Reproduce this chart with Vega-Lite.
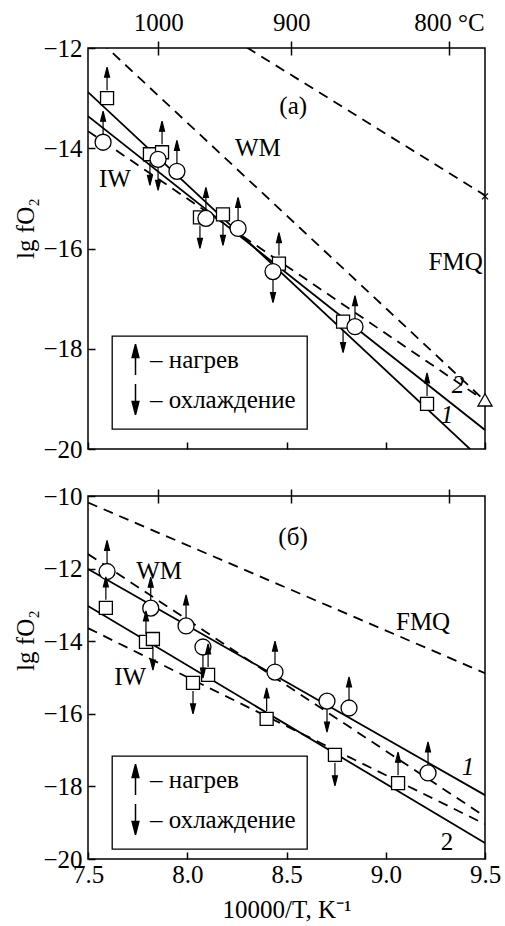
{
  "$schema": "https://vega.github.io/schema/vega-lite/v6.json",
  "padding": {"left": 13, "top": 9, "right": 0, "bottom": 0},
  "spacing": 20,
  "background": "white",
  "datasets": {
    "topBuffers": [
      {"buffer": "IW", "x": 7.5, "y": -13.66}, {"buffer": "IW", "x": 9.5, "y": -19.04},
      {"buffer": "WM", "x": 7.5, "y": -11.64}, {"buffer": "WM", "x": 9.5, "y": -19.04},
      {"buffer": "FMQ", "x": 7.5, "y": -10.02}, {"buffer": "FMQ", "x": 9.5, "y": -14.94}
    ],
    "topFits": [
      {"fit": "1", "x": 7.5, "y": -12.88}, {"fit": "1", "x": 9.5, "y": -20.28},
      {"fit": "2", "x": 7.5, "y": -13.36}, {"fit": "2", "x": 9.5, "y": -19.62}
    ],
    "topPoints": [
      {"x": 7.596, "y": -13.00, "type": "square", "dir": "нагрев"},
      {"x": 7.576, "y": -13.88, "type": "circle", "dir": "нагрев"},
      {"x": 7.812, "y": -14.12, "type": "square", "dir": "охлаждение"},
      {"x": 7.873, "y": -14.08, "type": "square", "dir": "нагрев"},
      {"x": 7.853, "y": -14.22, "type": "circle", "dir": "охлаждение"},
      {"x": 7.948, "y": -14.46, "type": "circle", "dir": "нагрев"},
      {"x": 8.064, "y": -15.38, "type": "square", "dir": "охлаждение"},
      {"x": 8.094, "y": -15.40, "type": "circle", "dir": "нагрев"},
      {"x": 8.180, "y": -15.32, "type": "square", "dir": "охлаждение"},
      {"x": 8.256, "y": -15.60, "type": "circle", "dir": "нагрев"},
      {"x": 8.462, "y": -16.30, "type": "square", "dir": "нагрев"},
      {"x": 8.432, "y": -16.46, "type": "circle", "dir": "охлаждение"},
      {"x": 8.785, "y": -17.46, "type": "square", "dir": "охлаждение"},
      {"x": 8.845, "y": -17.56, "type": "circle", "dir": "нагрев"},
      {"x": 9.208, "y": -19.10, "type": "square", "dir": "нагрев"}
    ],
    "topLabels": [
      {"label": "(а)", "x": 8.534, "y": -13.15, "style": "normal"},
      {"label": "WM", "x": 8.356, "y": -14.0, "style": "normal"},
      {"label": "IW", "x": 7.636, "y": -14.62, "style": "normal"},
      {"label": "FMQ", "x": 9.352, "y": -16.26, "style": "normal"},
      {"label": "1", "x": 9.309, "y": -19.32, "style": "italic"},
      {"label": "2", "x": 9.364, "y": -18.72, "style": "italic"}
    ],
    "topEnds": [
      {"buffer": "FMQ", "x": 9.5, "y": -14.96, "marker": "cross"},
      {"buffer": "WM", "x": 9.5, "y": -19.02, "marker": "triangle"}
    ],
    "botBuffers": [
      {"buffer": "IW", "x": 7.5, "y": -13.64}, {"buffer": "IW", "x": 9.5, "y": -19.04},
      {"buffer": "WM", "x": 7.5, "y": -11.6}, {"buffer": "WM", "x": 9.5, "y": -18.83},
      {"buffer": "FMQ", "x": 7.5, "y": -10.18}, {"buffer": "FMQ", "x": 9.5, "y": -14.88}
    ],
    "botFits": [
      {"fit": "1", "x": 7.5, "y": -12.01}, {"fit": "1", "x": 9.5, "y": -18.24},
      {"fit": "2", "x": 7.5, "y": -13.03}, {"fit": "2", "x": 9.5, "y": -19.56}
    ],
    "botPoints": [
      {"x": 7.596, "y": -12.08, "type": "circle", "dir": "нагрев"},
      {"x": 7.590, "y": -13.08, "type": "square", "dir": "нагрев"},
      {"x": 7.816, "y": -13.09, "type": "circle", "dir": "нагрев"},
      {"x": 7.994, "y": -13.58, "type": "circle", "dir": "нагрев"},
      {"x": 7.792, "y": -14.02, "type": "square", "dir": "нагрев"},
      {"x": 7.827, "y": -13.94, "type": "square", "dir": "охлаждение"},
      {"x": 8.079, "y": -14.16, "type": "circle", "dir": "охлаждение"},
      {"x": 8.105, "y": -14.93, "type": "square", "dir": "нагрев"},
      {"x": 8.029, "y": -15.15, "type": "square", "dir": "охлаждение"},
      {"x": 8.442, "y": -14.85, "type": "circle", "dir": "нагрев"},
      {"x": 8.400, "y": -16.14, "type": "square", "dir": "нагрев"},
      {"x": 8.704, "y": -15.65, "type": "circle", "dir": "охлаждение"},
      {"x": 8.815, "y": -15.84, "type": "circle", "dir": "нагрев"},
      {"x": 8.744, "y": -17.13, "type": "square", "dir": "охлаждение"},
      {"x": 9.062, "y": -17.91, "type": "square", "dir": "нагрев"},
      {"x": 9.213, "y": -17.63, "type": "circle", "dir": "нагрев"}
    ],
    "botLabels": [
      {"label": "(б)", "x": 8.533, "y": -11.13, "style": "normal"},
      {"label": "WM", "x": 7.858, "y": -12.07, "style": "normal"},
      {"label": "FMQ", "x": 9.188, "y": -13.47, "style": "normal"},
      {"label": "IW", "x": 7.712, "y": -14.99, "style": "normal"},
      {"label": "1", "x": 9.414, "y": -17.47, "style": "italic"},
      {"label": "2", "x": 9.309, "y": -19.53, "style": "normal"}
    ]
  },
  "vconcat": [
    {
      "width": 397,
      "height": 401,
      "resolve": {"axis": {"x": "independent"}},
      "layer": [
        {
          "data": {"name": "topBuffers"},
          "mark": {"type": "line", "clip": true, "strokeDash": [10, 7], "strokeWidth": 1.8, "color": "black"},
          "encoding": {
            "x": {"field": "x", "type": "quantitative", "scale": {"domain": [7.5, 9.5], "nice": false, "zero": false},
              "axis": {"orient": "bottom", "values": [7.5, 8, 8.5, 9, 9.5], "labels": false, "title": null, "tickSize": 7, "offset": -7}},
            "y": {"field": "y", "type": "quantitative", "scale": {"domain": [-20, -12], "nice": false, "zero": false},
              "axis": {"orient": "left", "values": [-20, -18, -16, -14, -12], "tickSize": 7, "offset": -7, "labelPadding": 6, "labelFont": "Liberation Serif", "title": "lg fO₂", "titlePadding": 4, "titleY": 180}},
            "detail": {"field": "buffer"}
          }
        },
        {
          "data": {"name": "topFits"},
          "mark": {"type": "line", "clip": true, "strokeWidth": 1.8, "color": "black"},
          "encoding": {
            "x": {"field": "x", "type": "quantitative", "scale": {"domain": [7.5, 9.5], "nice": false, "zero": false},
              "axis": {"orient": "top", "values": [7.8543, 8.5241, 9.3184], "tickSize": 14, "offset": -7, "labelPadding": 6, "labelFont": "Liberation Serif", "title": null,
                "labelExpr": "datum.value < 8 ? '1000' : (datum.value < 9 ? '900' : '800 °C')",
                "encode": {"labels": {"update": {"dx": {"signal": "datum.value > 9 ? 17 : 0"}}}}}},
            "y": {"field": "y", "type": "quantitative"},
            "detail": {"field": "fit"}
          }
        },
        {
          "data": {"name": "topPoints"},
          "transform": [{"filter": "datum.type == 'square'"}],
          "mark": {"type": "point", "shape": "square", "size": 169, "filled": true, "fill": "white", "stroke": "black", "strokeWidth": 1.3, "opacity": 1},
          "encoding": {
            "x": {"field": "x", "type": "quantitative", "axis": null},
            "y": {"field": "y", "type": "quantitative"}
          }
        },
        {
          "data": {"name": "topPoints"},
          "transform": [{"filter": "datum.type == 'circle'"}],
          "mark": {"type": "point", "shape": "circle", "size": 256, "filled": true, "fill": "white", "stroke": "black", "strokeWidth": 1.3, "opacity": 1},
          "encoding": {
            "x": {"field": "x", "type": "quantitative", "axis": null},
            "y": {"field": "y", "type": "quantitative"}
          }
        },
        {
          "data": {"name": "topPoints"},
          "transform": [{"filter": "datum.dir == 'нагрев'"}],
          "mark": {"type": "point", "filled": true, "color": "black", "stroke": "black", "strokeWidth": 1.2, "size": 100, "opacity": 1, "yOffset": -19.5},
          "encoding": {
            "x": {"field": "x", "type": "quantitative", "axis": null},
            "y": {"field": "y", "type": "quantitative"},
            "shape": {"field": "dir", "type": "nominal",
              "scale": {"domain": ["нагрев", "охлаждение"], "range": ["M0,2.3L0,-0.6M-0.5,-0.3L0,-2.3L0.5,-0.3Z", "M0,-2.3L0,0.6M-0.5,0.3L0,2.3L0.5,0.3Z"]},
              "legend": {"orient": "none", "legendX": 24, "legendY": 288, "title": null, "labelExpr": "'– ' + datum.label", "labelFont": "Liberation Serif", "symbolSize": 180, "strokeColor": "black", "padding": 11, "rowPadding": 3, "labelOffset": 2,
                "encode": {"symbols": {"update": {"fill": {"value": "black"}, "stroke": {"value": "black"}, "strokeWidth": {"value": 1.2}, "size": {"value": 180}, "opacity": {"value": 1}}}}}}
          }
        },
        {
          "data": {"name": "topPoints"},
          "transform": [{"filter": "datum.dir == 'охлаждение'"}],
          "mark": {"type": "point", "filled": true, "color": "black", "stroke": "black", "strokeWidth": 1.2, "size": 100, "opacity": 1, "yOffset": 19.5},
          "encoding": {
            "x": {"field": "x", "type": "quantitative", "axis": null},
            "y": {"field": "y", "type": "quantitative"},
            "shape": {"field": "dir", "type": "nominal",
              "scale": {"domain": ["нагрев", "охлаждение"], "range": ["M0,2.3L0,-0.6M-0.5,-0.3L0,-2.3L0.5,-0.3Z", "M0,-2.3L0,0.6M-0.5,0.3L0,2.3L0.5,0.3Z"]},
              "legend": {"orient": "none", "legendX": 24, "legendY": 288, "title": null, "labelExpr": "'– ' + datum.label", "labelFont": "Liberation Serif", "symbolSize": 180, "strokeColor": "black", "padding": 11, "rowPadding": 3, "labelOffset": 2,
                "encode": {"symbols": {"update": {"fill": {"value": "black"}, "stroke": {"value": "black"}, "strokeWidth": {"value": 1.2}, "size": {"value": 180}, "opacity": {"value": 1}}}}}}
          }
        },
        {
          "data": {"name": "topLabels"},
          "transform": [{"filter": "datum.style == 'normal'"}],
          "mark": {"type": "text", "font": "Liberation Serif", "fontSize": 25, "align": "center", "baseline": "middle", "color": "black"},
          "encoding": {
            "x": {"field": "x", "type": "quantitative", "axis": null},
            "y": {"field": "y", "type": "quantitative"},
            "text": {"field": "label"}
          }
        },
        {
          "data": {"name": "topLabels"},
          "transform": [{"filter": "datum.style == 'italic'"}],
          "mark": {"type": "text", "font": "Liberation Serif", "fontSize": 25, "fontStyle": "italic", "align": "center", "baseline": "middle", "color": "black"},
          "encoding": {
            "x": {"field": "x", "type": "quantitative", "axis": null},
            "y": {"field": "y", "type": "quantitative"},
            "text": {"field": "label"}
          }
        },
        {
          "data": {"name": "topEnds"},
          "transform": [{"filter": "datum.marker == 'cross'"}],
          "mark": {"type": "point", "shape": "M-1,-1L1,1M-1,1L1,-1", "size": 36, "filled": false, "stroke": "black", "strokeWidth": 1.3, "opacity": 1},
          "encoding": {
            "x": {"field": "x", "type": "quantitative", "axis": null},
            "y": {"field": "y", "type": "quantitative"}
          }
        },
        {
          "data": {"name": "topEnds"},
          "transform": [{"filter": "datum.marker == 'triangle'"}],
          "mark": {"type": "point", "shape": "triangle-up", "size": 200, "filled": true, "fill": "white", "stroke": "black", "strokeWidth": 1.3, "opacity": 1},
          "encoding": {
            "x": {"field": "x", "type": "quantitative", "axis": null},
            "y": {"field": "y", "type": "quantitative"}
          }
        }
      ]
    },
    {
      "width": 397,
      "height": 363,
      "resolve": {"axis": {"x": "independent"}},
      "layer": [
        {
          "data": {"name": "botBuffers"},
          "mark": {"type": "line", "clip": true, "strokeDash": [10, 7], "strokeWidth": 1.8, "color": "black"},
          "encoding": {
            "x": {"field": "x", "type": "quantitative", "scale": {"domain": [7.5, 9.5], "nice": false, "zero": false},
              "axis": {"orient": "bottom", "values": [7.5, 8, 8.5, 9, 9.5], "format": ".1f", "tickSize": 7, "offset": -7, "labelPadding": 3, "labelFont": "Liberation Serif", "title": "10000/T, K⁻¹", "titlePadding": 10}},
            "y": {"field": "y", "type": "quantitative", "scale": {"domain": [-20, -10], "nice": false, "zero": false},
              "axis": {"orient": "left", "values": [-20, -18, -16, -14, -12, -10], "tickSize": 7, "offset": -7, "labelPadding": 6, "labelFont": "Liberation Serif", "title": "lg fO₂", "titlePadding": 4, "titleY": 144}},
            "detail": {"field": "buffer"}
          }
        },
        {
          "data": {"name": "botFits"},
          "mark": {"type": "line", "clip": true, "strokeWidth": 1.8, "color": "black"},
          "encoding": {
            "x": {"field": "x", "type": "quantitative", "scale": {"domain": [7.5, 9.5], "nice": false, "zero": false},
              "axis": {"orient": "top", "values": [7.8543, 8.5241, 9.3184], "tickSize": 14, "offset": -7, "labels": false, "title": null}},
            "y": {"field": "y", "type": "quantitative"},
            "detail": {"field": "fit"}
          }
        },
        {
          "data": {"name": "botPoints"},
          "transform": [{"filter": "datum.type == 'square'"}],
          "mark": {"type": "point", "shape": "square", "size": 169, "filled": true, "fill": "white", "stroke": "black", "strokeWidth": 1.3, "opacity": 1},
          "encoding": {
            "x": {"field": "x", "type": "quantitative", "axis": null},
            "y": {"field": "y", "type": "quantitative"}
          }
        },
        {
          "data": {"name": "botPoints"},
          "transform": [{"filter": "datum.type == 'circle'"}],
          "mark": {"type": "point", "shape": "circle", "size": 256, "filled": true, "fill": "white", "stroke": "black", "strokeWidth": 1.3, "opacity": 1},
          "encoding": {
            "x": {"field": "x", "type": "quantitative", "axis": null},
            "y": {"field": "y", "type": "quantitative"}
          }
        },
        {
          "data": {"name": "botPoints"},
          "transform": [{"filter": "datum.dir == 'нагрев'"}],
          "mark": {"type": "point", "filled": true, "color": "black", "stroke": "black", "strokeWidth": 1.2, "size": 100, "opacity": 1, "yOffset": -19.5},
          "encoding": {
            "x": {"field": "x", "type": "quantitative", "axis": null},
            "y": {"field": "y", "type": "quantitative"},
            "shape": {"field": "dir", "type": "nominal",
              "scale": {"domain": ["нагрев", "охлаждение"], "range": ["M0,2.3L0,-0.6M-0.5,-0.3L0,-2.3L0.5,-0.3Z", "M0,-2.3L0,0.6M-0.5,0.3L0,2.3L0.5,0.3Z"]},
              "legend": {"orient": "none", "legendX": 24, "legendY": 260, "title": null, "labelExpr": "'– ' + datum.label", "labelFont": "Liberation Serif", "symbolSize": 180, "strokeColor": "black", "padding": 11, "rowPadding": 3, "labelOffset": 2,
                "encode": {"symbols": {"update": {"fill": {"value": "black"}, "stroke": {"value": "black"}, "strokeWidth": {"value": 1.2}, "size": {"value": 180}, "opacity": {"value": 1}}}}}}
          }
        },
        {
          "data": {"name": "botPoints"},
          "transform": [{"filter": "datum.dir == 'охлаждение'"}],
          "mark": {"type": "point", "filled": true, "color": "black", "stroke": "black", "strokeWidth": 1.2, "size": 100, "opacity": 1, "yOffset": 19.5},
          "encoding": {
            "x": {"field": "x", "type": "quantitative", "axis": null},
            "y": {"field": "y", "type": "quantitative"},
            "shape": {"field": "dir", "type": "nominal",
              "scale": {"domain": ["нагрев", "охлаждение"], "range": ["M0,2.3L0,-0.6M-0.5,-0.3L0,-2.3L0.5,-0.3Z", "M0,-2.3L0,0.6M-0.5,0.3L0,2.3L0.5,0.3Z"]},
              "legend": {"orient": "none", "legendX": 24, "legendY": 260, "title": null, "labelExpr": "'– ' + datum.label", "labelFont": "Liberation Serif", "symbolSize": 180, "strokeColor": "black", "padding": 11, "rowPadding": 3, "labelOffset": 2,
                "encode": {"symbols": {"update": {"fill": {"value": "black"}, "stroke": {"value": "black"}, "strokeWidth": {"value": 1.2}, "size": {"value": 180}, "opacity": {"value": 1}}}}}}
          }
        },
        {
          "data": {"name": "botLabels"},
          "transform": [{"filter": "datum.style == 'normal'"}],
          "mark": {"type": "text", "font": "Liberation Serif", "fontSize": 25, "align": "center", "baseline": "middle", "color": "black"},
          "encoding": {
            "x": {"field": "x", "type": "quantitative", "axis": null},
            "y": {"field": "y", "type": "quantitative"},
            "text": {"field": "label"}
          }
        },
        {
          "data": {"name": "botLabels"},
          "transform": [{"filter": "datum.style == 'italic'"}],
          "mark": {"type": "text", "font": "Liberation Serif", "fontSize": 25, "fontStyle": "italic", "align": "center", "baseline": "middle", "color": "black"},
          "encoding": {
            "x": {"field": "x", "type": "quantitative", "axis": null},
            "y": {"field": "y", "type": "quantitative"},
            "text": {"field": "label"}
          }
        }
      ]
    }
  ],
  "resolve": {"scale": {"shape": "independent"}},
  "config": {
    "font": "Liberation Serif",
    "view": {"stroke": "black", "strokeWidth": 1.5},
    "axis": {
      "labelFont": "Liberation Serif", "labelFontSize": 25, "labelColor": "black",
      "titleFont": "Liberation Serif", "titleFontSize": 25, "titleFontWeight": "normal", "titleColor": "black",
      "tickColor": "black", "tickWidth": 1.5, "domain": false, "grid": false,
      "labelFlush": false, "labelOverlap": false
    },
    "legend": {
      "labelFont": "Liberation Serif", "labelFontSize": 25, "labelColor": "black", "labelLimit": 400, "strokeWidth": 1.3
    }
  }
}
